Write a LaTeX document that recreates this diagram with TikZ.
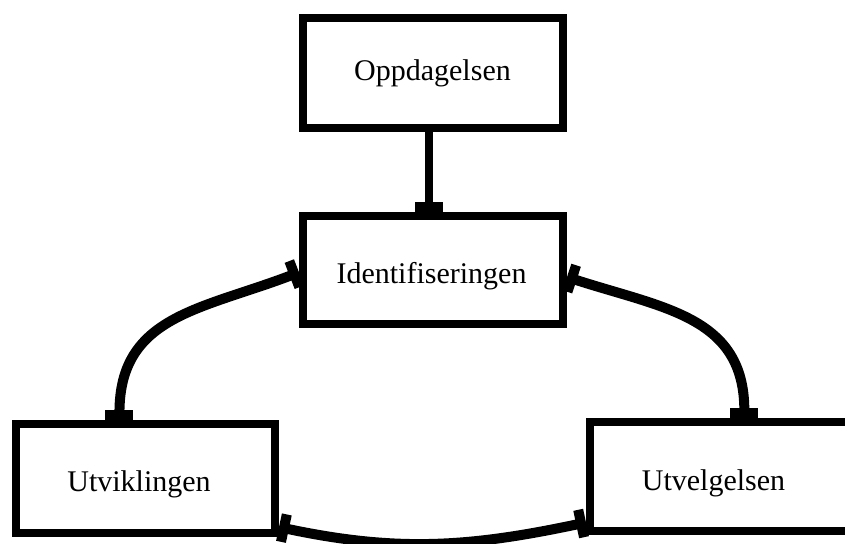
\documentclass[tikz,border=0pt]{standalone}
\usepackage{fontspec}
\setmainfont{Liberation Serif}
\usetikzlibrary{arrows.meta}
\tikzset{
  boxnode/.style={draw=black, line width=8pt, rectangle, inner sep=0pt},
  lbl/.style={anchor=base, inner sep=0pt, font=\fontsize{30}{36}\selectfont},
  headtip/.tip={Rectangle[length=10pt,width=28pt]},
  conn/.style={line width=10pt, headtip-headtip},
  oneway/.style={line width=8pt, -headtip},
}
\begin{document}
\begin{tikzpicture}[x=1pt,y=-1pt]
\useasboundingbox (0,0) rectangle (845,543);
\clip (0,0) rectangle (845,543);
\node[boxnode, minimum width=260pt, minimum height=110pt] (opp) at (433,73) {};
\node[boxnode, minimum width=260pt, minimum height=108pt] (ident) at (433,270) {};
\node[boxnode, minimum width=259pt, minimum height=109pt] (utvik) at (145.5,478.5) {};
\node[boxnode, minimum width=259pt, minimum height=109pt] (utvel) at (719.5,476.5) {};
\node[lbl] (toppd) at (432.5,81) {Oppdagelsen};
\node[lbl] (tident) at (431.5,283) {Identifiseringen};
\node[lbl] (tutvik) at (139,491) {Utviklingen};
\node[lbl] (tutvel) at (713.5,490) {Utvelgelsen};
\draw[oneway] (opp.-94) -- (opp.-94 |- ident.north);
\draw[conn] (utvik.114) to[out=90, in=201, looseness=1.15] (ident.181);
\draw[conn] (ident.-3) to[out=-18, in=90, looseness=1.15] (utvel.67);
\draw[conn] (utvik.-20) to[out=-12, in=192] (utvel.199.5);
\end{tikzpicture}
\end{document}
